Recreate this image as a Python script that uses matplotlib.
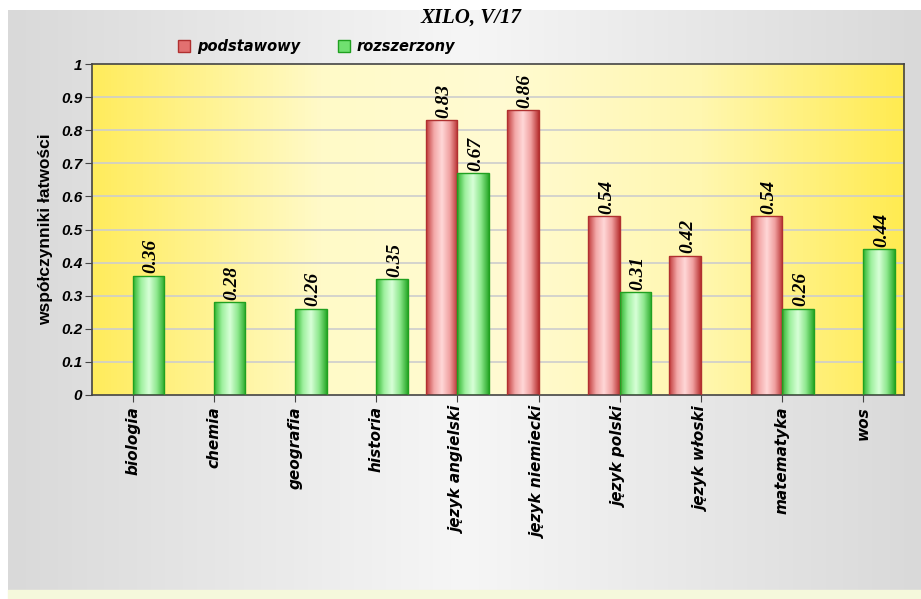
import numpy as np
import matplotlib.pyplot as plt
from matplotlib.colors import LinearSegmentedColormap

przedmioty = ['biologia', 'chemia', 'geografia', 'historia', 'język angielski',
              'język niemiecki', 'język polski', 'język włoski', 'matematyka', 'wos']
podstawowy = [np.nan, np.nan, np.nan, np.nan, 0.83, 0.86, 0.54, 0.42, 0.54, np.nan]
rozszerzony = [0.36, 0.28, 0.26, 0.35, 0.67, np.nan, 0.31, np.nan, 0.26, 0.44]
yticks = [0, 0.1, 0.2, 0.3, 0.4, 0.5, 0.6, 0.7, 0.8, 0.9, 1]
ytick_labels = ['0', '0.1', '0.2', '0.3', '0.4', '0.5', '0.6', '0.7', '0.8', '0.9', '1']

W, H = 921, 599
fig = plt.figure(figsize=(W / 100, H / 100), dpi=100)
fig.patch.set_facecolor('white')

# tlo calego wykresu (szary gradient)
bg = fig.add_axes([0, 0, 1, 1], zorder=-10)
bg.set_xlim(0, W)
bg.set_ylim(H, 0)
bg.axis('off')
gray = LinearSegmentedColormap.from_list('g', ['#d9d9d9', '#f6f6f6', '#d9d9d9'])
bg.imshow(np.linspace(0, 1, 256)[None, :], cmap=gray, aspect='auto',
          extent=[8, W, 590, 10], zorder=0)
bg.fill_between([8, W], 590, H, color='#f5f8dc', zorder=1)

ax = fig.add_axes([92 / W, 1 - 395 / H, (904 - 92) / W, (395 - 64) / H])
n = len(przedmioty)
x = np.arange(n)
w = 0.39

yellow = LinearSegmentedColormap.from_list(
    'y', [(0, '#ffec5c'), (0.28, '#fffac8'), (0.5, '#fffbd2'), (0.75, '#fff7b0'), (1, '#ffeb50')])
ax.imshow(np.linspace(0, 1, 256)[None, :], cmap=yellow, aspect='auto',
          extent=[-0.5, n - 0.5, 0, 1], zorder=0)

for yv in yticks[1:-1]:
    ax.axhline(yv, color='#cdcdcd', lw=1.2, zorder=1)

red_cm = LinearSegmentedColormap.from_list('r', ['#c03838', '#f3a8a8', '#ffd8d8', '#f0a0a0', '#b83030'])
green_cm = LinearSegmentedColormap.from_list('gr', ['#2cb42c', '#9ef09e', '#d8ffd8', '#8ee88e', '#28a828'])
grad = np.linspace(0, 1, 128)[None, :]

def rysuj(vals, offset, cmap, edge, label):
    v = np.array(vals, dtype=float)
    m = ~np.isnan(v)
    bars = ax.bar(x[m] + offset, v[m], w, align='edge', facecolor='none',
                  edgecolor=edge, lw=1.0, zorder=3, label=label)
    for b, val in zip(bars, v[m]):
        x0 = b.get_x()
        im = ax.imshow(grad, cmap=cmap, aspect='auto',
                       extent=[x0, x0 + w, 0, val], zorder=2)
        im.set_clip_path(b)
        ax.text(x0 + w / 2 + 0.03, val + 0.008, f'{val:.2f}', rotation=90,
                ha='center', va='bottom', fontsize=14, family='Liberation Serif',
                fontweight='bold', style='italic', zorder=4)
    return bars

rysuj(podstawowy, -w, red_cm, '#b03030', 'podstawowy')
rysuj(rozszerzony, 0, green_cm, '#20a020', 'rozszerzony')

ax.set_xlim(-0.5, n - 0.5)
ax.set_ylim(0, 1)
ax.set_yticks(yticks)
ax.set_yticklabels(ytick_labels)
ax.set_xticks(x)
ax.set_xticklabels(przedmioty, rotation=90)
for t in ax.get_yticklabels():
    t.set_family('Liberation Sans')
    t.set_fontweight('bold')
    t.set_style('italic')
    t.set_fontsize(11)
for t in ax.get_xticklabels():
    t.set_family('DejaVu Sans')
    t.set_fontweight('bold')
    t.set_style('italic')
    t.set_fontsize(11)
ax.tick_params(axis='y', length=5, color='#444444', pad=2)
ax.tick_params(axis='x', length=5, color='#444444', pad=3)
for s in ax.spines.values():
    s.set_color('#444444')
    s.set_linewidth(1.2)

ax.set_ylabel('współczynniki łatwości', family='Liberation Sans', fontweight='bold',
              fontsize=12.5, labelpad=6)

fig.text(471 / W, 1 - 18 / H, 'XILO, V/17', ha='center', va='center',
         family='Liberation Serif', fontweight='bold', style='italic', fontsize=15)

leg = ax.legend(loc='lower left', bbox_to_anchor=(0.093, 1.0), ncol=2, frameon=False,
                handlelength=0.85, handleheight=0.85, columnspacing=2.6, handletextpad=0.45,
                prop={'family': 'DejaVu Sans', 'weight': 'bold', 'style': 'italic', 'size': 10.5},
                borderaxespad=0.3)
leg.legend_handles[0].set_facecolor('#e27070')
leg.legend_handles[1].set_facecolor('#70e070')

fig.savefig('out.png', dpi=100)
